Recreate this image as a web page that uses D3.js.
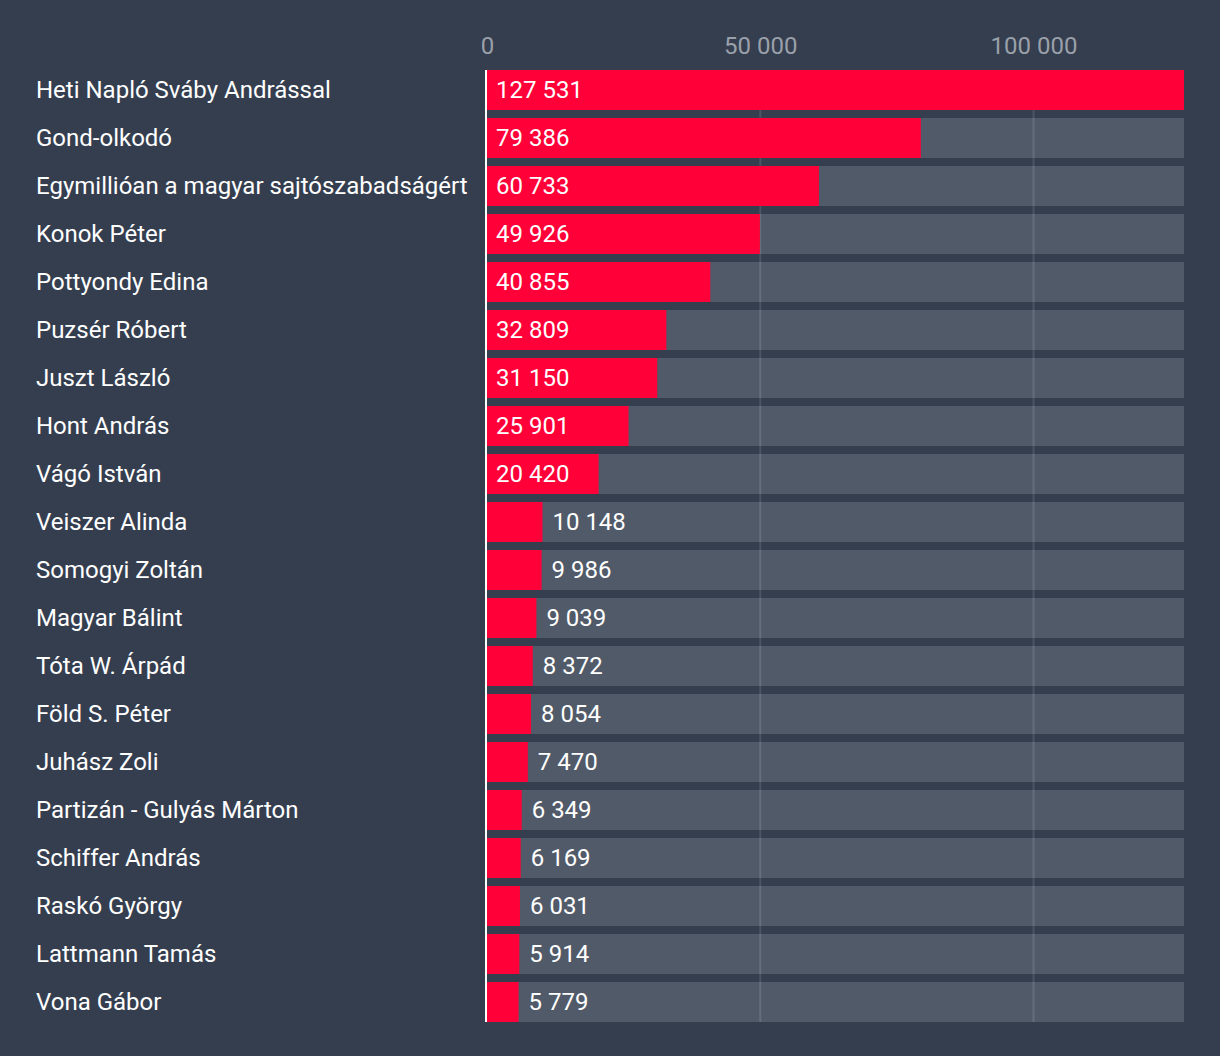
<!DOCTYPE html>
<html lang="hu">
  <meta charset="UTF-8" />
  <title>Bar chart</title>
  <style>
    body { margin: 0; background: #343e4f; }
    text { font-family: Roboto, "Noto Sans", sans-serif; }
  </style>
  <script src="https://d3js.org/d3.v7.min.js"></script>
  <body>
    <div id="chart"></div>
    <script>
      // data
      const names = [
        "Heti Napló Sváby Andrással", "Gond-olkodó", "Egymillióan a magyar sajtószabadságért",
        "Konok Péter", "Pottyondy Edina", "Puzsér Róbert", "Juszt László", "Hont András",
        "Vágó István", "Veiszer Alinda", "Somogyi Zoltán", "Magyar Bálint", "Tóta W. Árpád",
        "Föld S. Péter", "Juhász Zoli", "Partizán - Gulyás Márton", "Schiffer András",
        "Raskó György", "Lattmann Tamás", "Vona Gábor"
      ];
      const values = [
        127531, 79386, 60733, 49926, 40855, 32809, 31150, 25901, 20420, 10148,
        9986, 9039, 8372, 8054, 7470, 6349, 6169, 6031, 5914, 5779
      ];
      const ticks = [0, 50000, 100000];

      const width = 1220, height = 1056;
      const fmt = (v) => d3.format(",")(v).replace(/,/g, " ");

      const svg = d3.select("#chart").append("svg")
        .attr("width", width).attr("height", height);

      const x = d3.scaleLinear().domain([0, d3.max(values)]).range([487, 1184]);
      const y = d3.scaleBand().domain(names).range([66, 1026]).paddingInner(8 / 48).paddingOuter(4 / 48);

      // grey tracks
      svg.append("g").selectAll("rect").data(names).join("rect")
        .attr("x", x(0)).attr("y", (d) => y(d))
        .attr("width", x.range()[1] - x(0)).attr("height", y.bandwidth())
        .attr("fill", "#515a69");

      // grid lines
      svg.append("g").selectAll("line").data(ticks.filter((t) => t > 0)).join("line")
        .attr("x1", (d) => x(d)).attr("x2", (d) => x(d))
        .attr("y1", y(names[0])).attr("y2", y(names[names.length - 1]) + y.bandwidth())
        .attr("stroke", "#ffffff").attr("stroke-opacity", 0.12).attr("stroke-width", 2);

      // top axis labels
      const axis = svg.append("g").attr("transform", "translate(0,54)")
        .call(d3.axisTop(x).tickValues(ticks).tickSize(0).tickPadding(0).tickFormat(fmt));
      axis.select(".domain").remove();
      axis.selectAll("text").attr("fill", "#9aa0a9").attr("font-size", 24)
        .attr("font-family", "Roboto, sans-serif").attr("dy", 0);

      // red bars
      svg.append("g").selectAll("rect").data(values).join("rect")
        .attr("x", x(0)).attr("y", (d, i) => y(names[i]))
        .attr("width", (d) => x(d) - x(0)).attr("height", y.bandwidth())
        .attr("fill", "#ff0038");

      // baseline
      svg.append("line")
        .attr("x1", x(0) - 1).attr("x2", x(0) - 1)
        .attr("y1", y(names[0])).attr("y2", y(names[names.length - 1]) + y.bandwidth())
        .attr("stroke", "#ffffff").attr("stroke-width", 2);

      // category labels
      svg.append("g").selectAll("text").data(names).join("text")
        .attr("x", 36).attr("y", (d) => y(d) + y.bandwidth() / 2)
        .attr("dy", "0.35em").attr("fill", "#ffffff").attr("font-size", 24)
        .text((d) => d);

      // value labels
      svg.append("g").selectAll("text").data(values).join("text")
        .attr("x", (d) => (x(d) - x(0) > 90 ? x(0) + 9 : x(d) + 10))
        .attr("y", (d, i) => y(names[i]) + y.bandwidth() / 2)
        .attr("dy", "0.35em").attr("fill", "#ffffff").attr("font-size", 24)
        .text(fmt);
    </script>
  </body>
</html>
